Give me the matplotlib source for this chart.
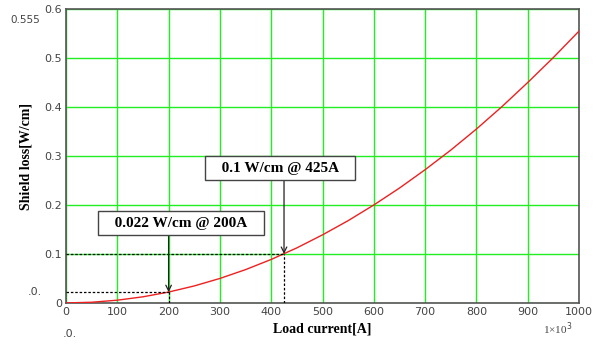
import matplotlib
matplotlib.use("Agg")
import matplotlib.pyplot as plt

# Valores
current = [0, 50, 100, 150, 200, 250, 300, 350, 400, 450, 500,
           550, 600, 650, 700, 750, 800, 850, 900, 950, 1000]
loss = [0, 0.0014, 0.0056, 0.0125, 0.0222, 0.0347, 0.050, 0.068, 0.0888, 0.1124, 0.139,
        0.168, 0.200, 0.2345, 0.272, 0.312, 0.355, 0.401, 0.450, 0.501, 0.555]

x_ticks = [0, 100, 200, 300, 400, 500, 600, 700, 800, 900, 1000]
y_ticks = [0, 0.1, 0.2, 0.3, 0.4, 0.5, 0.6]
y_tick_labels = ["0", "0.1", "0.2", "0.3", "0.4", "0.5", "0.6"]

# Puntos marcados
mark_current = [200, 425]
mark_loss = [0.022, 0.1]
mark_text = ["0.022 W/cm @ 200A", "0.1 W/cm @ 425A"]
box_pos = [(224, 0.163), (417, 0.2755)]
box_bottom = [0.138, 0.251]

serif = "Liberation Serif"
tick_grey = "#444444"

fig = plt.figure(figsize=(6, 3.49), dpi=100)
ax = fig.add_axes([0.11, 0.132, 0.855, 0.842])

ax.plot(current, loss, color="#ee2020", lw=1.0, zorder=3)

ax.set_xlim(0, 1000)
ax.set_ylim(0, 0.6)
ax.set_xticks(x_ticks)
ax.set_yticks(y_ticks)
ax.set_yticklabels(y_tick_labels)
ax.grid(True, color="#22ee22", lw=1.0)
ax.set_axisbelow(True)
ax.tick_params(length=0, labelsize=8, colors=tick_grey, pad=3)
for s in ax.spines.values():
    s.set_color("#555555")
    s.set_linewidth(1.2)

# Lineas punteadas y flechas
for cx, ly, txt, (bx, by), bb in zip(mark_current, mark_loss, mark_text, box_pos, box_bottom):
    ax.plot([0, cx], [ly, ly], color="black", ls=(0, (2, 1.5)), lw=0.9, zorder=4)
    ax.plot([cx, cx], [0, ly], color="black", ls=(0, (2, 1.5)), lw=0.9, zorder=4)
    ax.annotate("", xy=(cx, ly), xytext=(cx, bb),
                arrowprops=dict(arrowstyle="->", color="#222222", lw=0.9,
                                shrinkA=0, shrinkB=0), zorder=5)
    ax.text(bx, by, "   " + txt + "   ", ha="center", va="center", fontsize=11,
            fontweight="bold", family=serif, zorder=6,
            bbox=dict(boxstyle="square,pad=0.35", fc="white", ec="#444444", lw=1.0))

ax.set_xlabel("Load current[A]", family=serif, fontweight="bold", fontsize=10, labelpad=4)
ax.set_ylabel("Shield loss[W/cm]", family=serif, fontweight="bold", fontsize=10, labelpad=8)

# Etiquetas sueltas
fig.text(0.017, 0.935, "0.555", fontsize=7.5, color=tick_grey)
fig.text(0.047, 0.155, ".0.", fontsize=8, color=tick_grey)
fig.text(0.105, 0.035, ".0.", fontsize=8, color=tick_grey)
fig.text(0.905, 0.045, "1×10$^3$", fontsize=8, color=tick_grey, family=serif)

fig.savefig("out.png", dpi=100)
